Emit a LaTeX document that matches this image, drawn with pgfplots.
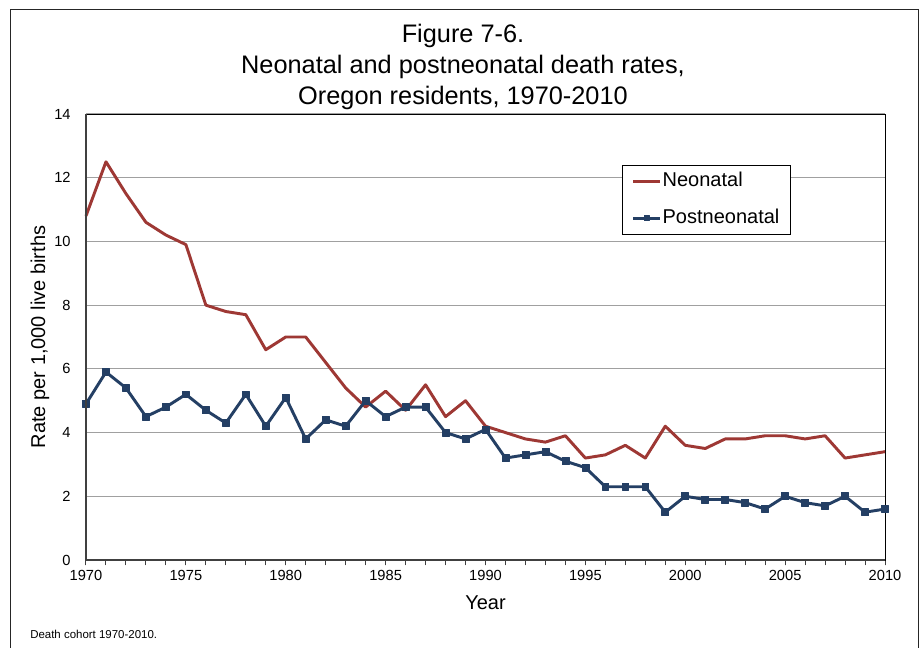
\documentclass[border=0pt]{standalone}
\usepackage{fontspec}
\setmainfont{Liberation Sans}
\usepackage{pgfplots}
\pgfplotsset{compat=1.18}
\definecolor{neo}{RGB}{158,56,52}
\definecolor{post}{RGB}{36,63,100}
\definecolor{gridc}{RGB}{160,160,160}
\definecolor{axc}{RGB}{64,64,64}
\begin{document}
\begin{tikzpicture}
\path[use as bounding box] (-64.5pt,-66pt) rectangle (624.75pt,420pt);
\fill[white] (-64.5pt,-66pt) rectangle (624.75pt,420pt);
\draw[line width=0.8pt, black!85] (-56.6pt,-67pt) -- (-56.6pt,412.9pt) -- (624.1pt,412.9pt) -- (624.1pt,-67pt);
\begin{axis}[
  at={(0pt,0pt)}, anchor=south west,
  scale only axis, width=599.25pt, height=334.5pt,
  xmin=1970, xmax=2010, ymin=0, ymax=14,
  xtick={1970,1975,...,2010}, minor xtick={1970,1971,...,2010},
  ytick={0,2,...,14},
  ymajorgrids, major grid style={gridc, line width=0.9pt},
  tick align=outside, major tick length=4pt, minor tick length=4pt,
  xtick pos=left, ytick pos=left,
  y tick style={draw=none},
  x tick style={axc, line width=0.75pt},
  axis line style={black, line width=0.6pt},
  clip=false,
  ticklabel style={font=\fontsize{11}{13}\selectfont},
  yticklabel style={xshift=-4pt},
  xlabel={Year}, ylabel={Rate per 1,000 live births},
  xlabel style={at={(axis description cs:0.5,-0.0964)}, anchor=center, font=\fontsize{15}{18}\selectfont},
  ylabel style={at={(axis description cs:-0.0576,0.5)}, anchor=center, font=\fontsize{15}{18}\selectfont},
  legend style={at={(axis description cs:0.6708,0.8857)}, anchor=north west, draw=black, line width=0.6pt,
    font=\fontsize{15}{18}\selectfont, inner xsep=7pt, inner ysep=4pt, row sep=11.5pt,
    nodes={inner sep=1pt, text height=11pt, text depth=3pt}, cells={anchor=west}},
  legend image code/.code={\draw[#1, mark size=2pt, mark repeat=2, mark phase=2] plot coordinates {(0pt,0pt) (10pt,0pt) (20pt,0pt)};},
  after end axis/.code={\draw[axc, line width=1.4pt] (rel axis cs:0,1) -- (rel axis cs:0,0) -- (rel axis cs:1,0);},
  /pgf/number format/1000 sep={},
  /pgf/number format/assume math mode=true,
]
\addplot[neo, line width=2.2pt, line join=round, no markers] coordinates {
(1970,10.8) (1971,12.5) (1972,11.5) (1973,10.6) (1974,10.2) (1975,9.9) (1976,8.0) (1977,7.8) (1978,7.7) (1979,6.6)
(1980,7.0) (1981,7.0) (1982,6.2) (1983,5.4) (1984,4.8) (1985,5.3) (1986,4.7) (1987,5.5) (1988,4.5) (1989,5.0)
(1990,4.2) (1991,4.0) (1992,3.8) (1993,3.7) (1994,3.9) (1995,3.2) (1996,3.3) (1997,3.6) (1998,3.2) (1999,4.2)
(2000,3.6) (2001,3.5) (2002,3.8) (2003,3.8) (2004,3.9) (2005,3.9) (2006,3.8) (2007,3.9) (2008,3.2) (2009,3.3) (2010,3.4)};
\addlegendentry{Neonatal}
\addplot[post, line width=2.2pt, line join=round, mark=square*, mark size=2.6pt, mark options={solid, line width=0.5pt}] coordinates {
(1970,4.9) (1971,5.9) (1972,5.4) (1973,4.5) (1974,4.8) (1975,5.2) (1976,4.7) (1977,4.3) (1978,5.2) (1979,4.2)
(1980,5.1) (1981,3.8) (1982,4.4) (1983,4.2) (1984,5.0) (1985,4.5) (1986,4.8) (1987,4.8) (1988,4.0) (1989,3.8)
(1990,4.1) (1991,3.2) (1992,3.3) (1993,3.4) (1994,3.1) (1995,2.9) (1996,2.3) (1997,2.3) (1998,2.3) (1999,1.5)
(2000,2.0) (2001,1.9) (2002,1.9) (2003,1.8) (2004,1.6) (2005,2.0) (2006,1.8) (2007,1.7) (2008,2.0) (2009,1.5) (2010,1.6)};
\addlegendentry{Postneonatal}
\end{axis}
\node[align=center, font=\fontsize{19}{23.5}\selectfont] at (282.75pt,369.75pt) {Figure 7-6.\\Neonatal and postneonatal death rates,\\Oregon residents, 1970-2010};
\node[anchor=west, font=\fontsize{8.6}{10}\selectfont, inner sep=0pt] at (-42pt,-55.5pt) {Death cohort 1970-2010.};
\end{tikzpicture}
\end{document}
